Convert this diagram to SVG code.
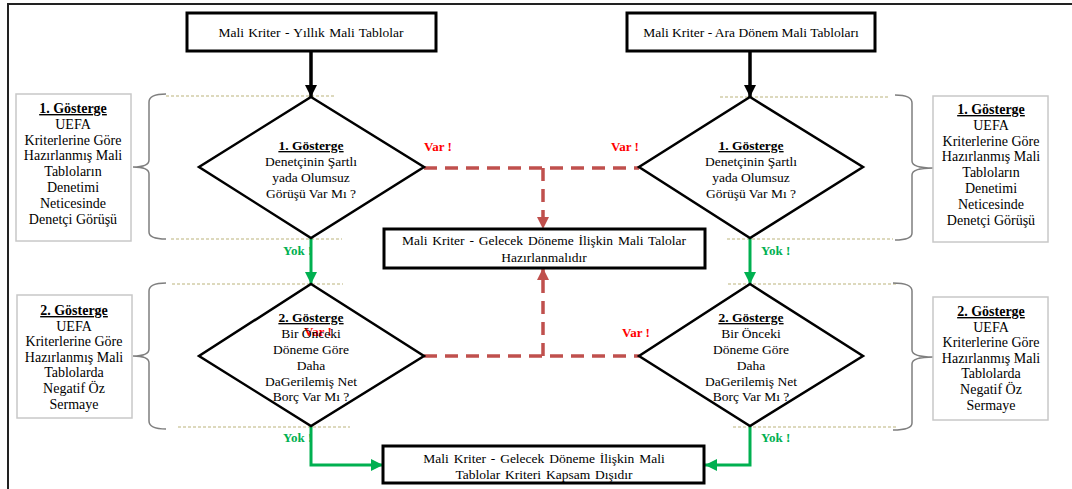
<svg xmlns="http://www.w3.org/2000/svg" width="1072" height="489" viewBox="0 0 1072 489" font-family="'Liberation Serif', 'DejaVu Serif', serif">
<defs>
<style>
text{font-family:'Liberation Serif','DejaVu Serif',serif;font-size:13.5px;fill:#000;text-anchor:middle}
.s{font-size:14px}
.u{font-weight:bold;text-decoration:underline}
.box{fill:#fff;stroke:#000;stroke-width:3}
.dia{fill:#fff;stroke:#000;stroke-width:2.5;stroke-linejoin:miter}
.side{fill:#fff;stroke:#c8c8c8;stroke-width:1.5}
.brace{fill:none;stroke:#7f7f7f;stroke-width:1.5}
.dot{stroke:#d2cda8;stroke-width:1.5;stroke-dasharray:3 2;fill:none}
.blk{stroke:#000;stroke-width:3.5;fill:none}
.grn{stroke:#00b050;stroke-width:3;fill:none}
.red{stroke:#c0504d;stroke-width:3.5;fill:none;stroke-dasharray:13 8}
.var{fill:#ff0000;font-weight:bold;text-anchor:start;font-size:13px}
.yok{fill:#00b050;font-weight:bold;text-anchor:start;font-size:13px}
</style>
<marker id="ab" markerUnits="userSpaceOnUse" markerWidth="14" markerHeight="14" refX="12" refY="6" orient="auto"><path d="M0,0 L12,6 L0,12 z" fill="#000"/></marker>
<marker id="ag" markerUnits="userSpaceOnUse" markerWidth="14" markerHeight="14" refX="12" refY="6" orient="auto"><path d="M0,0 L12,6 L0,12 z" fill="#00b050"/></marker>
<marker id="ar" markerUnits="userSpaceOnUse" markerWidth="14" markerHeight="14" refX="12" refY="6" orient="auto"><path d="M0,0 L12,6 L0,12 z" fill="#c0504d"/></marker>
</defs>
<rect width="1072" height="489" fill="#fff"/>
<path d="M8,489 L8,4 L1072,4" fill="none" stroke="#222" stroke-width="2"/>

<g id="braces">
<path class="dot" d="M166,96 L335,96 M171,239 L342,239 M172,284 L343,284 M178,427 L350,427"/>
<path class="dot" d="M720,97 L890,97 M727,239 L893,239 M728,284 L897,284 M733,427 L897,427"/>
<path class="brace" d="M166,94 Q149,94 149,102 L149,160 Q149,167 133,167 Q149,167 149,174 L149,232 Q149,239 166,239"/>
<path class="brace" d="M166,283 Q149,283 149,291 L149,349 Q149,356 133,356 Q149,356 149,363 L149,421 Q149,429 166,429"/>
<path class="brace" d="M895,95 Q912,95 912,103 L912,161 Q912,168 933,168 Q912,168 912,175 L912,233 Q912,240 895,240"/>
<path class="brace" d="M893,283 Q912,283 912,291 L912,350 Q912,357 933,357 Q912,357 912,364 L912,423 Q912,430 893,430"/>
</g>

<g id="connectors">
<path class="blk" d="M311,51 L311,97" marker-end="url(#ab)"/>
<path class="blk" d="M750,51 L750,97" marker-end="url(#ab)"/>
<path class="grn" d="M311,238 L311,284" marker-end="url(#ag)"/>
<path class="grn" d="M750,238 L750,284" marker-end="url(#ag)"/>
<path class="grn" d="M311,426 L311,465 L383,465" marker-end="url(#ag)"/>
<path class="grn" d="M750,426 L750,465 L705,465" marker-end="url(#ag)"/>
<path class="red" d="M424,168 L639,168"/>
<path class="red" d="M543,168 L543,229" marker-end="url(#ar)"/>
<path class="red" d="M424,356 L639,356"/>
<path class="red" d="M543,356 L543,268" marker-end="url(#ar)"/>
<text class="var" x="424" y="151">Var !</text>
<text class="var" x="611" y="151">Var !</text>
<text class="var" x="622" y="337">Var !</text>
<text class="yok" x="283" y="255">Yok !</text>
<text class="yok" x="761" y="255">Yok !</text>
<text class="yok" x="283" y="442">Yok !</text>
<text class="yok" x="761" y="442">Yok !</text>
</g>

<g id="top-left">
<rect class="box" x="187" y="13" width="249" height="38"/>
<text x="311" y="37" word-spacing="1">Mali Kriter - Yıllık Mali Tablolar</text>
</g>
<g id="top-right">
<rect class="box" x="627" y="13" width="248" height="38"/>
<text x="751" y="37">Mali Kriter - Ara Dönem Mali Tabloları</text>
</g>

<g id="d1-left">
<path class="dia" d="M311,97 L424,167 L311,238 L199,167 z"/>
<text x="311" y="150"><tspan class="u">1. Gösterge</tspan><tspan x="311" dy="16">Denetçinin Şartlı</tspan><tspan x="311" dy="16">yada Olumsuz</tspan><tspan x="311" dy="16">Görüşü Var Mı ?</tspan></text>
</g>
<g id="d1-right">
<path class="dia" d="M750,97 L863,167 L750,238 L639,167 z"/>
<text x="751" y="150"><tspan class="u">1. Gösterge</tspan><tspan x="751" dy="16">Denetçinin Şartlı</tspan><tspan x="751" dy="16">yada Olumsuz</tspan><tspan x="751" dy="16">Görüşü Var Mı ?</tspan></text>
</g>
<g id="d2-left">
<path class="dia" d="M311,284 L424,356 L311,426 L199,356 z"/>
<text class="var" x="304" y="336">Var !</text>
<text x="311" y="322"><tspan class="u">2. Gösterge</tspan><tspan x="311" dy="16">Bir Önceki</tspan><tspan x="311" dy="16">Döneme Göre</tspan><tspan x="311" dy="16">Daha</tspan><tspan x="311" dy="16">DaGerilemiş Net</tspan><tspan x="311" dy="15">Borç Var Mı ?</tspan></text>
</g>
<g id="d2-right">
<path class="dia" d="M750,284 L863,356 L750,426 L639,356 z"/>
<text x="751" y="322"><tspan class="u">2. Gösterge</tspan><tspan x="751" dy="16">Bir Önceki</tspan><tspan x="751" dy="16">Döneme Göre</tspan><tspan x="751" dy="16">Daha</tspan><tspan x="751" dy="16">DaGerilemiş Net</tspan><tspan x="751" dy="15">Borç Var Mı ?</tspan></text>
</g>

<g id="mid-box">
<rect class="box" x="384" y="229" width="321" height="39"/>
<text x="544" y="245" word-spacing="1.5">Mali Kriter - Gelecek Döneme İlişkin Mali Talolar<tspan x="544" dy="17">Hazırlanmalıdır</tspan></text>
</g>
<g id="bottom-box">
<rect class="box" x="383" y="446" width="321" height="37"/>
<text x="544" y="463" word-spacing="1.5">Mali Kriter - Gelecek Döneme İlişkin Mali<tspan x="544" dy="16">Tablolar Kriteri Kapsam Dışıdır</tspan></text>
</g>

<g id="side-l1">
<rect class="side" x="16" y="94" width="115" height="147"/>
<text class="s" x="73" y="113"><tspan class="u">1. Gösterge</tspan><tspan x="73" dy="15.8">UEFA</tspan><tspan x="73" dy="15.8">Kriterlerine Göre</tspan><tspan x="73" dy="15.8">Hazırlanmış Mali</tspan><tspan x="73" dy="15.8">Tabloların</tspan><tspan x="73" dy="15.8">Denetimi</tspan><tspan x="73" dy="15.8">Neticesinde</tspan><tspan x="73" dy="15.8">Denetçi Görüşü</tspan></text>
</g>
<g id="side-l2">
<rect class="side" x="17" y="295" width="115" height="123"/>
<text class="s" x="74" y="315"><tspan class="u">2. Gösterge</tspan><tspan x="74" dy="15.6">UEFA</tspan><tspan x="74" dy="15.6">Kriterlerine Göre</tspan><tspan x="74" dy="15.6">Hazırlanmış Mali</tspan><tspan x="74" dy="15.6">Tablolarda</tspan><tspan x="74" dy="15.6">Negatif Öz</tspan><tspan x="74" dy="15.6">Sermaye</tspan></text>
</g>
<g id="side-r1">
<rect class="side" x="933" y="96" width="115" height="146"/>
<text class="s" x="991" y="114"><tspan class="u">1. Gösterge</tspan><tspan x="991" dy="15.8">UEFA</tspan><tspan x="991" dy="15.8">Kriterlerine Göre</tspan><tspan x="991" dy="15.8">Hazırlanmış Mali</tspan><tspan x="991" dy="15.8">Tabloların</tspan><tspan x="991" dy="15.8">Denetimi</tspan><tspan x="991" dy="15.8">Neticesinde</tspan><tspan x="991" dy="15.8">Denetçi Görüşü</tspan></text>
</g>
<g id="side-r2">
<rect class="side" x="933" y="297" width="115" height="123"/>
<text class="s" x="991" y="316"><tspan class="u">2. Gösterge</tspan><tspan x="991" dy="15.6">UEFA</tspan><tspan x="991" dy="15.6">Kriterlerine Göre</tspan><tspan x="991" dy="15.6">Hazırlanmış Mali</tspan><tspan x="991" dy="15.6">Tablolarda</tspan><tspan x="991" dy="15.6">Negatif Öz</tspan><tspan x="991" dy="15.6">Sermaye</tspan></text>
</g>
</svg>
